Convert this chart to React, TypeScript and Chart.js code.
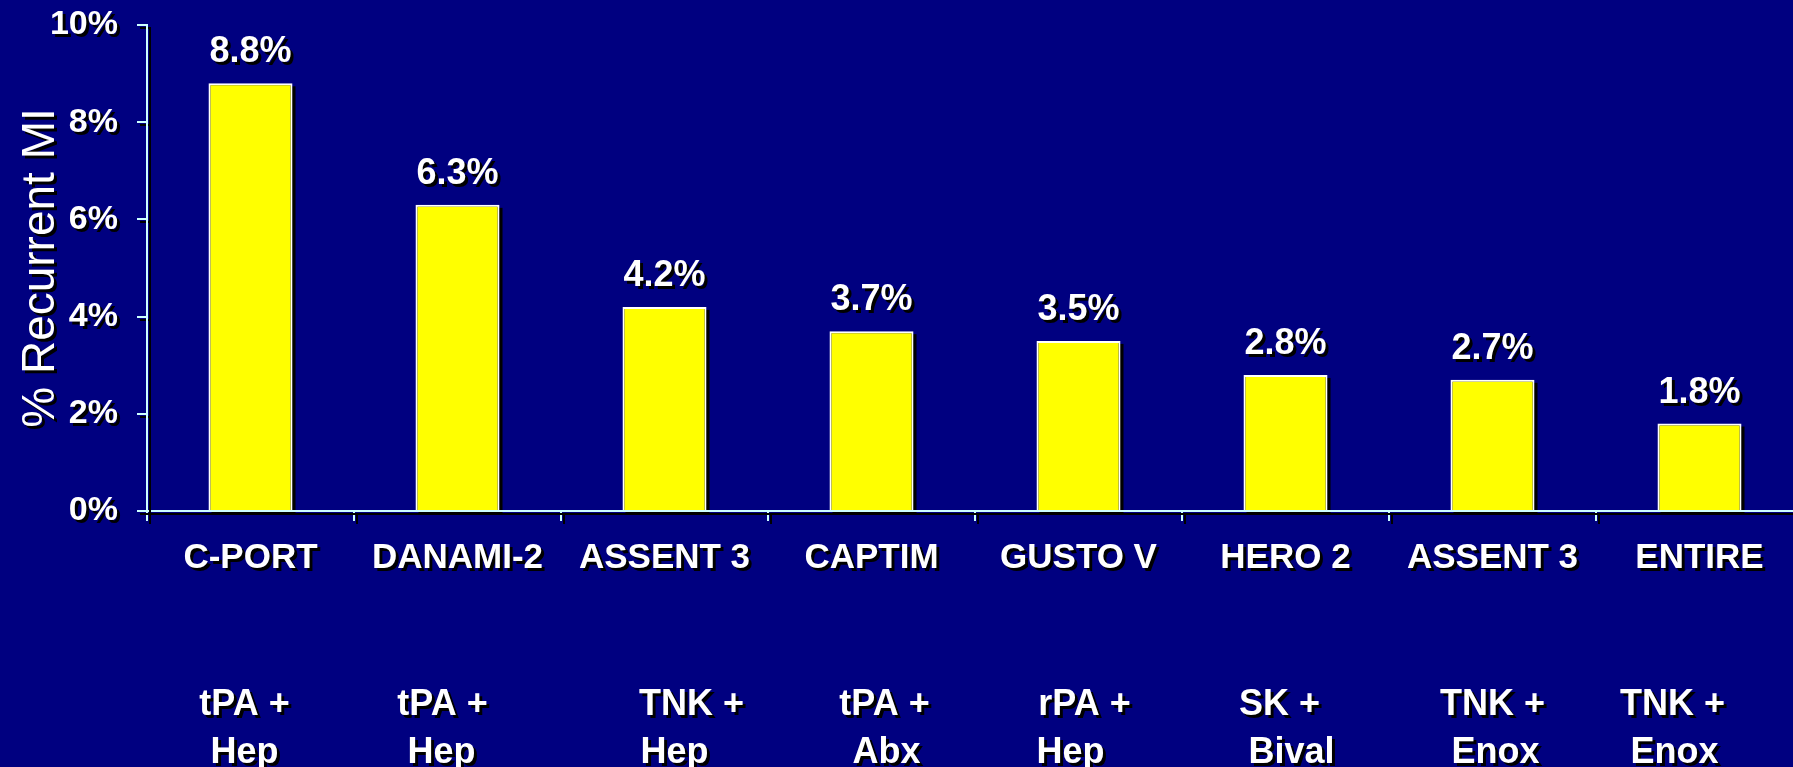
import { useEffect, useRef } from 'react';
import { Chart, registerables } from 'chart.js';

Chart.register(...registerables);

const categories = ['C-PORT', 'DANAMI-2', 'ASSENT 3', 'CAPTIM', 'GUSTO V', 'HERO 2', 'ASSENT 3', 'ENTIRE'];
const recurrentMI = [8.8, 6.3, 4.2, 3.7, 3.5, 2.8, 2.7, 1.8];
const regimenLine1 = ['tPA +', 'tPA +', 'TNK +', 'tPA +', 'rPA +', 'SK +', 'TNK +', 'TNK +'];
const regimenLine2 = ['Hep', 'Hep', 'Hep', 'Abx', 'Hep', 'Bival', 'Enox', 'Enox'];
const yMin = 0;
const yMax = 10;
const yStep = 2;

// small horizontal nudges of the regimen text relative to each category centre (layout only)
const line1Nudge = [-6, -15, 27, 13, 6, -6, 0, -27];
const line2Nudge = [-6, -16, 10, 15, -8, 6, 3, -25];

const FONT = 'Arial, "Liberation Sans", Helvetica, sans-serif';
const NAVY = '#000080';
const AXIS = '#ccffff';

function setShadow(ctx: CanvasRenderingContext2D, on: boolean) {
  ctx.shadowColor = on ? '#000000' : 'rgba(0,0,0,0)';
  ctx.shadowOffsetX = on ? 3 : 0;
  ctx.shadowOffsetY = on ? 3 : 0;
  ctx.shadowBlur = 0;
}

const slidePlugin = {
  id: 'slidePlugin',
  beforeDraw(chart: any) {
    setShadow(chart.ctx, true);
  },
  beforeDatasetsDraw(chart: any) {
    const ctx = chart.ctx as CanvasRenderingContext2D;
    setShadow(ctx, false);
    const meta = chart.getDatasetMeta(0);
    ctx.save();
    ctx.fillStyle = '#000000';
    meta.data.forEach((bar: any) => {
      const { x, y, base, width } = bar.getProps(['x', 'y', 'base', 'width'], true);
      ctx.fillRect(x - width / 2 + 3, y + 3, width, base - y);
    });
    ctx.restore();
  },
  afterDatasetsDraw(chart: any) {
    const ctx = chart.ctx as CanvasRenderingContext2D;
    setShadow(ctx, true);
    const meta = chart.getDatasetMeta(0);
    ctx.save();
    ctx.fillStyle = '#ffffff';
    ctx.textAlign = 'center';
    ctx.textBaseline = 'alphabetic';
    ctx.font = `bold 36px ${FONT}`;
    meta.data.forEach((bar: any, i: number) => {
      ctx.fillText(`${recurrentMI[i].toFixed(1)}%`, bar.x, bar.y - 21);
    });
    const xScale = chart.scales.x;
    const bottom = chart.chartArea.bottom;
    ctx.font = `bold 36px ${FONT}`;
    regimenLine1.forEach((t, i) => {
      ctx.fillText(t, xScale.getPixelForValue(i) + line1Nudge[i], bottom + 204);
    });
    regimenLine2.forEach((t, i) => {
      ctx.fillText(t, xScale.getPixelForValue(i) + line2Nudge[i], bottom + 252);
    });
    ctx.restore();
  },
  afterDraw(chart: any) {
    setShadow(chart.ctx, false);
  },
};

export default function App() {
  const canvasRef = useRef<HTMLCanvasElement | null>(null);

  useEffect(() => {
    document.body.style.margin = '0';
    document.body.style.overflow = 'hidden';
    document.body.style.background = NAVY;
    const canvas = canvasRef.current;
    if (!canvas) return;
    const chart = new Chart(canvas, {
      type: 'bar',
      data: {
        labels: categories,
        datasets: [
          {
            data: recurrentMI,
            backgroundColor: '#ffff00',
            borderColor: '#ffffff',
            borderWidth: 2,
            borderSkipped: 'bottom',
            categoryPercentage: 1,
            barPercentage: 0.406,
          },
        ],
      },
      options: {
        animation: false,
        responsive: false,
        devicePixelRatio: 1,
        layout: { padding: { top: 25, right: 3, left: 0, bottom: 0 } },
        plugins: {
          legend: { display: false },
          tooltip: { enabled: false },
        },
        scales: {
          x: {
            afterFit: (scale: any) => {
              scale.height = 256;
              scale.paddingLeft = 0;
              scale.paddingRight = 0;
            },
            grid: {
              offset: true,
              drawOnChartArea: false,
              drawTicks: true,
              tickLength: 10,
              color: AXIS,
              lineWidth: 2,
            },
            border: { display: true, color: AXIS, width: 2, z: 1 },
            ticks: {
              color: '#ffffff',
              font: { family: FONT, size: 35, weight: 'bold' },
              padding: 16,
              maxRotation: 0,
              autoSkip: false,
            },
          },
          y: {
            min: yMin,
            max: yMax,
            afterFit: (scale: any) => {
              scale.width = 147;
              scale.paddingTop = 0;
              scale.paddingBottom = 0;
            },
            grid: {
              drawOnChartArea: false,
              drawTicks: true,
              tickLength: 10,
              color: AXIS,
              lineWidth: 2,
            },
            border: { display: true, color: AXIS, width: 2, z: 1 },
            ticks: {
              stepSize: yStep,
              color: '#ffffff',
              font: { family: FONT, size: 34, weight: 'bold' },
              padding: 19,
              callback: (v: any) => `${v}%`,
            },
            title: {
              display: true,
              text: '% Recurrent MI',
              color: '#ffffff',
              font: { family: FONT, size: 46, weight: 'normal' },
              padding: { top: 14, bottom: 0 },
            },
          },
        },
      },
      plugins: [slidePlugin],
    });
    return () => {
      chart.destroy();
    };
  }, []);

  return (
    <div style={{ position: 'fixed', left: 0, top: 0, width: 1806, height: 767, background: NAVY }}>
      <canvas ref={canvasRef} width={1806} height={767} style={{ display: 'block', width: 1806, height: 767 }} />
    </div>
  );
}
